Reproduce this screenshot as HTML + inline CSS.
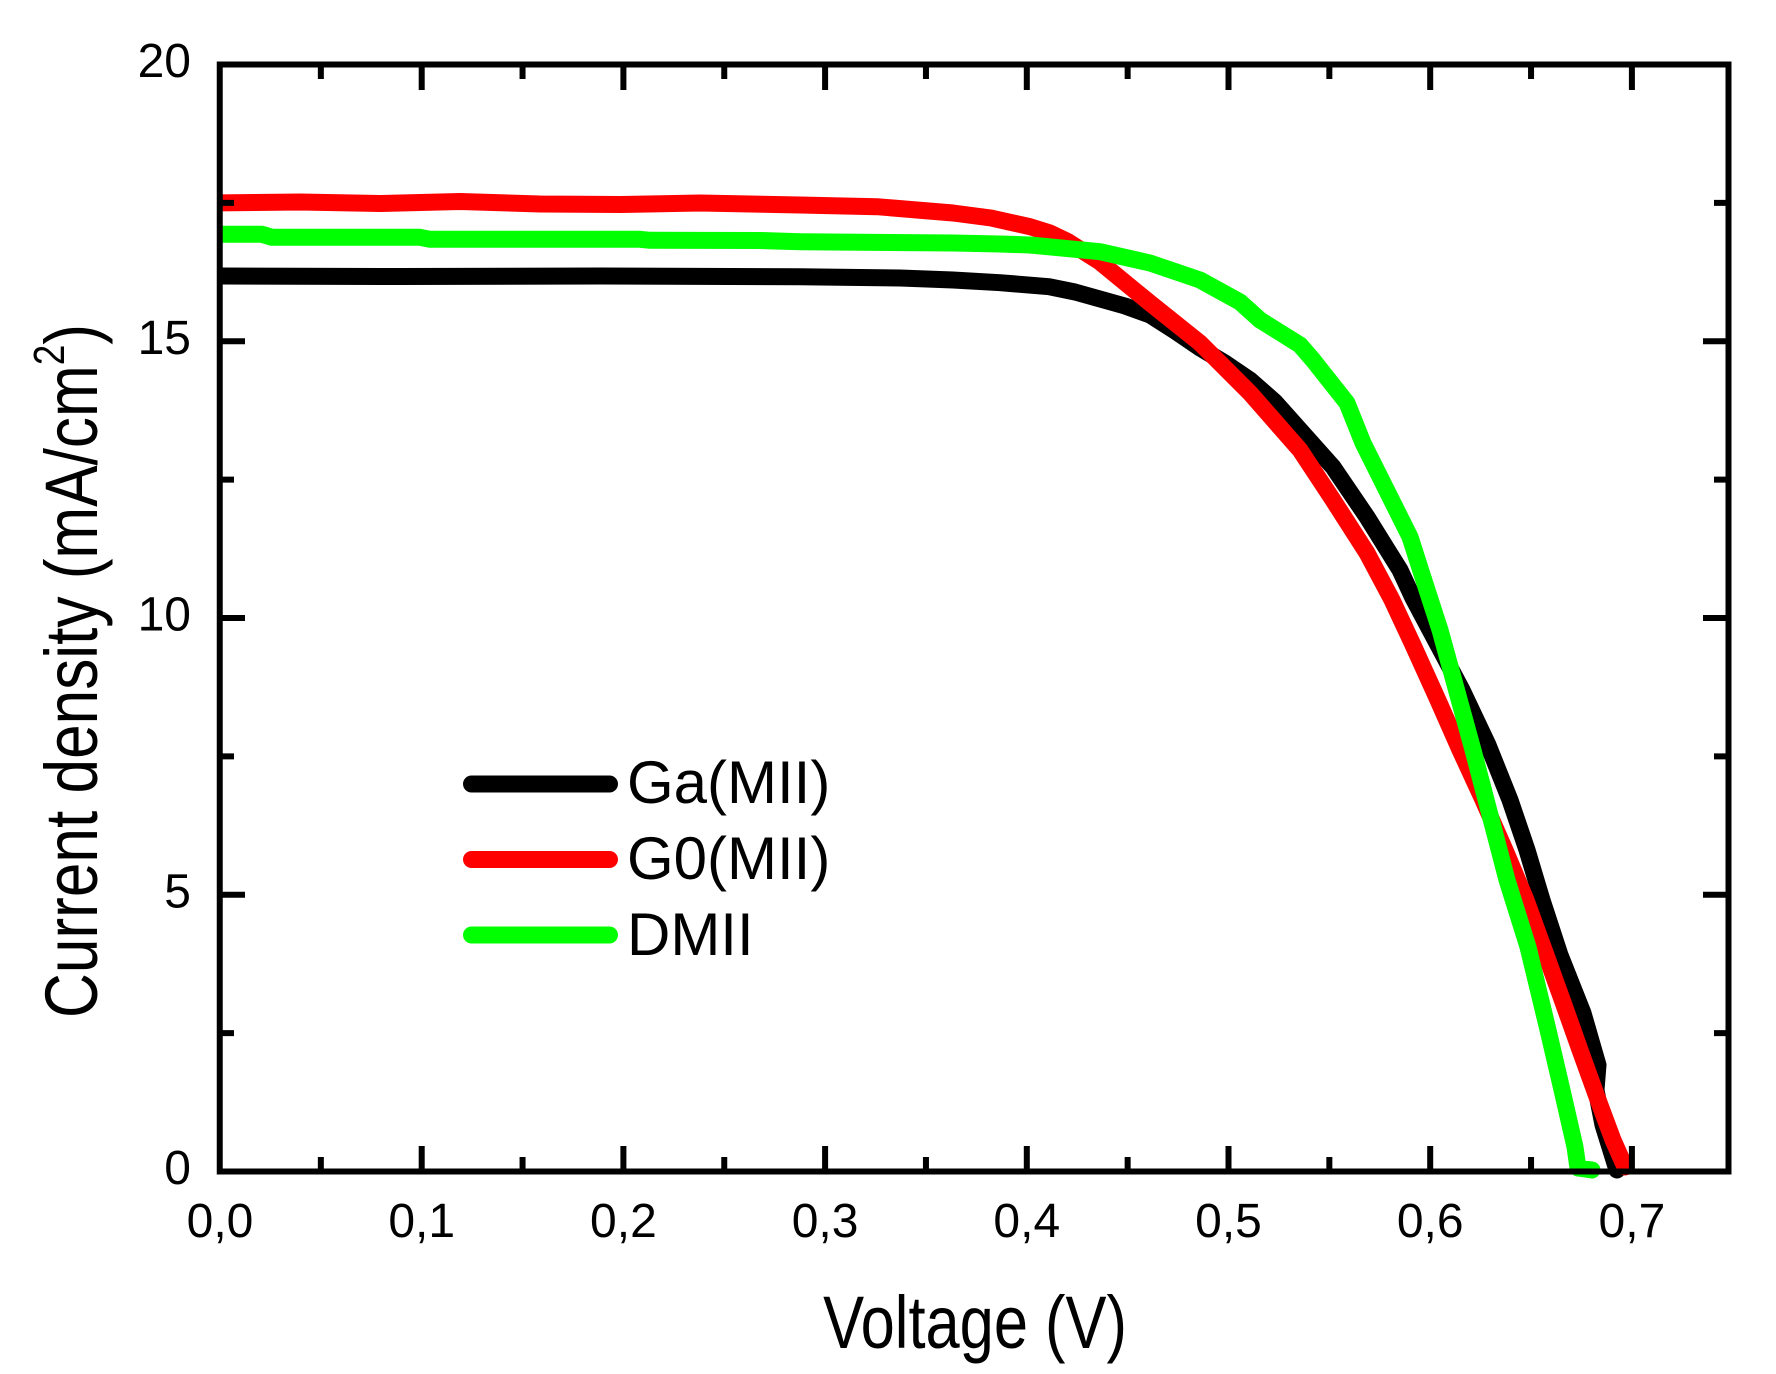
<!DOCTYPE html>
<html>
<head>
<meta charset="utf-8">
<style>
  html, body { margin: 0; padding: 0; background: #ffffff; }
  svg { display: block; }
  text { font-family: "Liberation Sans", Arial, sans-serif; fill: #000; }
</style>
</head>
<body>
<svg xmlns="http://www.w3.org/2000/svg" width="1776" height="1374" viewBox="0 0 1776 1374">
  <rect x="0" y="0" width="1776" height="1374" fill="#ffffff"/>
  <defs>
    <clipPath id="plot">
      <rect x="220" y="40" width="1540" height="1140"/>
    </clipPath>
  </defs>

  <!-- Curves -->
  <g clip-path="url(#plot)" fill="none" stroke-width="17" stroke-linecap="round" stroke-linejoin="round">
    <polyline stroke="#000000" points="212,276 400,276.5 600,276 800,276.7 900,278 953,280 1000,282.7 1049,286.7 1075,292 1100,299 1125,306 1150,315 1175,331 1200,348 1225,363 1250,380 1275,402 1300,430 1333,467 1367,517 1400,570 1413,598 1430,630 1462,690 1488,745 1510,800 1527,850 1542,900 1560,955 1583,1013 1598,1065 1596,1090 1603,1125 1617,1170"/>
    <polyline stroke="#ff0000" points="212,203 300,202 380,203.5 460,201.5 540,204 620,204.5 700,203 800,205 877,206.7 953,213 991,218 1030,226.7 1050,233 1068,241.7 1100,262 1150,303 1200,343 1250,393 1300,450 1333,500 1367,553 1392,600 1413,645 1437,698 1460,750 1483,800 1505,850 1526,900 1546,955 1564,1005 1580,1050 1597,1097 1613,1140 1625,1167"/>
    <polyline stroke="#00ff00" points="212,234.3 262,234.3 272,237.3 420,237.3 430,239.3 640,239.3 650,240.3 760,240.5 800,241.7 953,243 1000,244 1030,245 1100,251.7 1150,263 1200,280 1240,302 1260,320 1300,345 1313,360 1347,403 1363,443 1383,483 1410,537 1427,590 1440,630 1473,750 1490,815 1507,880 1528,947 1548,1030 1562,1090 1575,1147 1578,1168 1592,1170"/>
  </g>

  <!-- Frame -->
  <rect x="219.75" y="64.5" width="1508.75" height="1107" fill="none" stroke="#000" stroke-width="6"/>

  <!-- Ticks -->
  <g stroke="#000" stroke-width="6" fill="none">
    <path d="M421.7,1171.5V1146 M623.4,1171.5V1146 M825.1,1171.5V1146 M1026.8,1171.5V1146 M1228.5,1171.5V1146 M1430.2,1171.5V1146 M1631.9,1171.5V1146"/>
    <path d="M320.85,1171.5V1157 M522.55,1171.5V1157 M724.25,1171.5V1157 M925.95,1171.5V1157 M1127.65,1171.5V1157 M1329.35,1171.5V1157 M1531.05,1171.5V1157"/>
    <path d="M421.7,64.5V90 M623.4,64.5V90 M825.1,64.5V90 M1026.8,64.5V90 M1228.5,64.5V90 M1430.2,64.5V90 M1631.9,64.5V90"/>
    <path d="M320.85,64.5V79 M522.55,64.5V79 M724.25,64.5V79 M925.95,64.5V79 M1127.65,64.5V79 M1329.35,64.5V79 M1531.05,64.5V79"/>
    <path d="M219.75,894.75H245 M219.75,618H245 M219.75,341.25H245"/>
    <path d="M219.75,1033.1H234 M219.75,756.4H234 M219.75,479.6H234 M219.75,202.9H234"/>
    <path d="M1728.5,894.75H1703 M1728.5,618H1703 M1728.5,341.25H1703"/>
    <path d="M1728.5,1033.1H1714 M1728.5,756.4H1714 M1728.5,479.6H1714 M1728.5,202.9H1714"/>
  </g>

  <!-- Y tick labels -->
  <g font-size="48" text-anchor="end">
    <text x="191" y="1184">0</text>
    <text x="191" y="907.25">5</text>
    <text x="191" y="630.5">10</text>
    <text x="191" y="353.75">15</text>
    <text x="191" y="77">20</text>
  </g>

  <!-- X tick labels -->
  <g font-size="48" text-anchor="middle">
    <text x="220" y="1237">0,0</text>
    <text x="421.7" y="1237">0,1</text>
    <text x="623.4" y="1237">0,2</text>
    <text x="825.1" y="1237">0,3</text>
    <text x="1026.8" y="1237">0,4</text>
    <text x="1228.5" y="1237">0,5</text>
    <text x="1430.2" y="1237">0,6</text>
    <text x="1631.9" y="1237">0,7</text>
  </g>

  <!-- Axis titles -->
  <text font-size="74" text-anchor="middle" transform="translate(975 1348) scale(0.83 1)">Voltage (V)</text>
  <text font-size="74" text-anchor="middle" transform="translate(97 671) rotate(-90) scale(0.84 1)">Current density (mA/cm<tspan font-size="44" dy="-33">2</tspan><tspan dy="33">)</tspan></text>

  <!-- Legend -->
  <g stroke-width="17" stroke-linecap="round">
    <line x1="471.5" y1="784" x2="609.5" y2="784" stroke="#000000"/>
    <line x1="471.5" y1="859.5" x2="609.5" y2="859.5" stroke="#ff0000"/>
    <line x1="471.5" y1="935" x2="609.5" y2="935" stroke="#00ff00"/>
  </g>
  <g font-size="60">
    <text x="627" y="803">Ga(MII)</text>
    <text x="627" y="879">G0(MII)</text>
    <text x="627" y="955">DMII</text>
  </g>
</svg>
</body>
</html>
